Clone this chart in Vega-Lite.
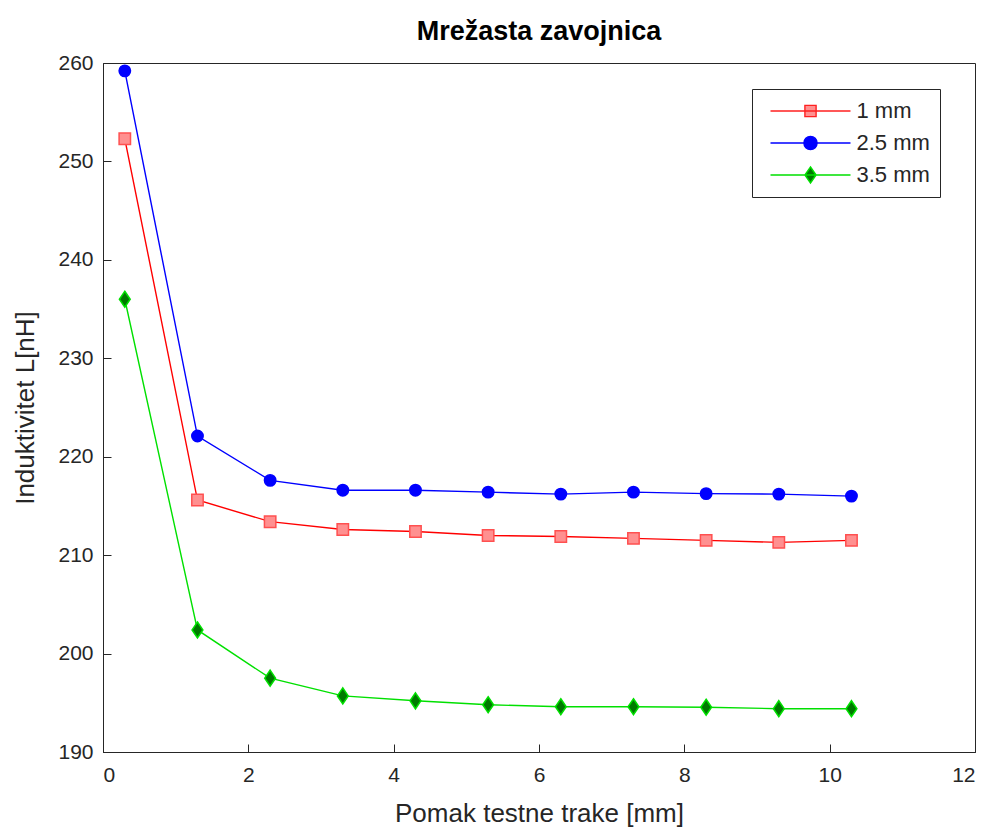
{
  "$schema": "https://vega.github.io/schema/vega-lite/v6.json",
  "width": 872,
  "height": 689,
  "autosize": {"type": "none"},
  "padding": {"left": 103, "top": 63, "right": 16, "bottom": 81},
  "background": "white",
  "title": {
    "text": "Mrežasta zavojnica",
    "font": "Liberation Sans",
    "fontSize": 27,
    "fontWeight": "bold",
    "color": "black",
    "anchor": "middle",
    "offset": 6
  },
  "config": {
    "view": {"stroke": "#262626", "strokeWidth": 1},
    "axis": {
      "grid": false,
      "domainColor": "#262626",
      "tickColor": "#262626",
      "labelColor": "#262626",
      "titleColor": "#262626",
      "labelFont": "Liberation Sans",
      "titleFont": "Liberation Sans",
      "labelFontSize": 21,
      "titleFontSize": 26,
      "titleFontWeight": "normal",
      "tickSize": -8,
      "domainWidth": 1,
      "tickWidth": 1
    }
  },
  "data": {
    "values": [
      {"x": 0.3, "L": 252.3, "series": "1 mm"},
      {"x": 1.3, "L": 215.6, "series": "1 mm"},
      {"x": 2.3, "L": 213.4, "series": "1 mm"},
      {"x": 3.3, "L": 212.6, "series": "1 mm"},
      {"x": 4.3, "L": 212.4, "series": "1 mm"},
      {"x": 5.3, "L": 212.0, "series": "1 mm"},
      {"x": 6.3, "L": 211.9, "series": "1 mm"},
      {"x": 7.3, "L": 211.7, "series": "1 mm"},
      {"x": 8.3, "L": 211.5, "series": "1 mm"},
      {"x": 9.3, "L": 211.3, "series": "1 mm"},
      {"x": 10.3, "L": 211.5, "series": "1 mm"},
      {"x": 0.3, "L": 259.2, "series": "2.5 mm"},
      {"x": 1.3, "L": 222.1, "series": "2.5 mm"},
      {"x": 2.3, "L": 217.6, "series": "2.5 mm"},
      {"x": 3.3, "L": 216.6, "series": "2.5 mm"},
      {"x": 4.3, "L": 216.6, "series": "2.5 mm"},
      {"x": 5.3, "L": 216.4, "series": "2.5 mm"},
      {"x": 6.3, "L": 216.2, "series": "2.5 mm"},
      {"x": 7.3, "L": 216.4, "series": "2.5 mm"},
      {"x": 8.3, "L": 216.25, "series": "2.5 mm"},
      {"x": 9.3, "L": 216.2, "series": "2.5 mm"},
      {"x": 10.3, "L": 216.0, "series": "2.5 mm"},
      {"x": 0.3, "L": 236.0, "series": "3.5 mm"},
      {"x": 1.3, "L": 202.4, "series": "3.5 mm"},
      {"x": 2.3, "L": 197.5, "series": "3.5 mm"},
      {"x": 3.3, "L": 195.7, "series": "3.5 mm"},
      {"x": 4.3, "L": 195.2, "series": "3.5 mm"},
      {"x": 5.3, "L": 194.8, "series": "3.5 mm"},
      {"x": 6.3, "L": 194.6, "series": "3.5 mm"},
      {"x": 7.3, "L": 194.6, "series": "3.5 mm"},
      {"x": 8.3, "L": 194.55, "series": "3.5 mm"},
      {"x": 9.3, "L": 194.4, "series": "3.5 mm"},
      {"x": 10.3, "L": 194.4, "series": "3.5 mm"}
    ]
  },
  "encoding": {
    "x": {
      "field": "x",
      "type": "quantitative",
      "scale": {"domain": [0, 12], "nice": false, "zero": false},
      "axis": {"values": [0, 2, 4, 6, 8, 10, 12], "title": "Pomak testne trake [mm]", "labelPadding": 20, "titlePadding": 15}
    },
    "y": {
      "field": "L",
      "type": "quantitative",
      "scale": {"domain": [190, 260], "nice": false, "zero": false},
      "axis": {"values": [190, 200, 210, 220, 230, 240, 250, 260], "title": "Induktivitet L[nH]", "labelPadding": 18, "titlePadding": 19}
    }
  },
  "layer": [
    {
      "mark": {"type": "line", "strokeWidth": 1.4},
      "encoding": {
        "stroke": {
          "field": "series",
          "type": "nominal",
          "scale": {"domain": ["1 mm", "2.5 mm", "3.5 mm"], "range": ["#ff0000", "#0000ff", "#00e000"]},
          "legend": null
        }
      }
    },
    {
      "mark": {"type": "point", "filled": true, "size": 130, "strokeWidth": 1.5, "opacity": 1},
      "encoding": {
        "shape": {
          "field": "series",
          "type": "nominal",
          "scale": {"domain": ["1 mm", "2.5 mm", "3.5 mm"], "range": ["square", "circle", "M0,-1.4L0.95,0L0,1.4L-0.95,0Z"]},
          "legend": null
        },
        "fill": {
          "field": "series",
          "type": "nominal",
          "scale": {"domain": ["1 mm", "2.5 mm", "3.5 mm"], "range": ["#ff9090", "#0000ff", "#007a00"]},
          "legend": null
        },
        "stroke": {
          "field": "series",
          "type": "nominal",
          "scale": {"domain": ["1 mm", "2.5 mm", "3.5 mm"], "range": ["#ff5050", "#0000ff", "#00e000"]},
          "legend": null
        }
      }
    },
    {
      "mark": {"type": "point", "filled": true, "size": 10, "opacity": 0},
      "encoding": {
        "shape": {
          "field": "series",
          "type": "nominal",
          "scale": {"domain": ["1 mm", "2.5 mm", "3.5 mm"], "range": [
            "M-1,0H1M-0.14,-0.14H0.14V0.14H-0.14Z",
            "M-1,0H1M-0.165,0A0.165,0.165,0,1,0,0.165,0A0.165,0.165,0,1,0,-0.165,0Z",
            "M-1,0H1M0,-0.2L0.14,0L0,0.2L-0.14,0Z"
          ]},
          "legend": {
            "orient": "none",
            "legendX": 649,
            "legendY": 26,
            "title": null,
            "padding": 10,
            "strokeColor": "#262626",
            "fillColor": "white",
            "symbolSize": 6400,
            "symbolOpacity": 1,
            "symbolStrokeWidth": 1.4,
            "clipHeight": 24,
            "rowPadding": 8,
            "symbolOffset": 7.5,
            "labelOffset": 5,
            "labelFont": "Liberation Sans",
            "labelFontSize": 22,
            "labelColor": "#262626"
          }
        },
        "fill": {
          "field": "series",
          "type": "nominal",
          "scale": {"domain": ["1 mm", "2.5 mm", "3.5 mm"], "range": ["#ff9090", "#0000ff", "#007a00"]},
          "legend": {
            "orient": "none",
            "legendX": 649,
            "legendY": 26,
            "title": null,
            "padding": 10,
            "strokeColor": "#262626",
            "fillColor": "white",
            "symbolSize": 6400,
            "symbolOpacity": 1,
            "symbolStrokeWidth": 1.4,
            "clipHeight": 24,
            "rowPadding": 8,
            "symbolOffset": 7.5,
            "labelOffset": 5,
            "labelFont": "Liberation Sans",
            "labelFontSize": 22,
            "labelColor": "#262626"
          }
        },
        "stroke": {
          "field": "series",
          "type": "nominal",
          "scale": {"domain": ["1 mm", "2.5 mm", "3.5 mm"], "range": ["#ff2020", "#0000ff", "#00e000"]},
          "legend": {
            "orient": "none",
            "legendX": 649,
            "legendY": 26,
            "title": null,
            "padding": 10,
            "strokeColor": "#262626",
            "fillColor": "white",
            "symbolSize": 6400,
            "symbolOpacity": 1,
            "symbolStrokeWidth": 1.4,
            "clipHeight": 24,
            "rowPadding": 8,
            "symbolOffset": 7.5,
            "labelOffset": 5,
            "labelFont": "Liberation Sans",
            "labelFontSize": 22,
            "labelColor": "#262626"
          }
        }
      }
    }
  ],
  "resolve": {
    "scale": {"shape": "independent", "fill": "independent", "stroke": "independent"},
    "legend": {"shape": "independent", "fill": "independent", "stroke": "independent"}
  }
}
